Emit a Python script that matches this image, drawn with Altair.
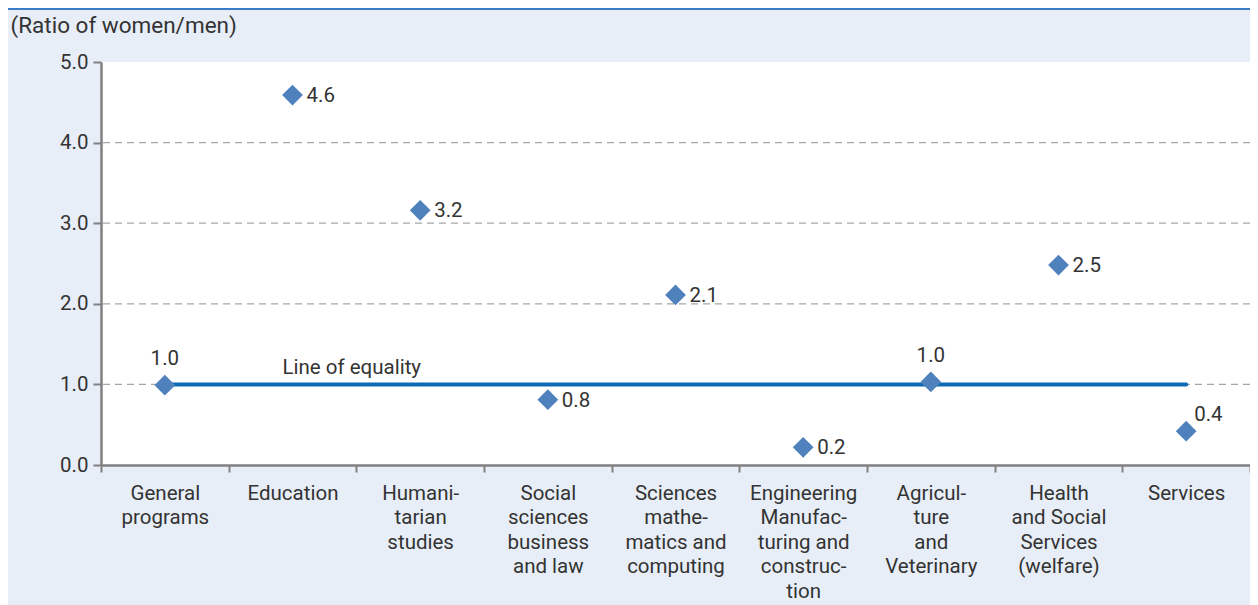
import altair as alt
import pandas as pd

categories = [
    "General|programs",
    "Education",
    "Humani-|tarian|studies",
    "Social|sciences|business|and law",
    "Sciences|mathe-|matics and|computing",
    "Engineering|Manufac-|turing and|construc-|tion",
    "Agricul-|ture|and|Veterinary",
    "Health|and Social|Services|(welfare)",
    "Services",
]
ratios = [0.99, 4.59, 3.16, 0.81, 2.11, 0.22, 1.03, 2.48, 0.42]
value_labels = ["1.0", "4.6", "3.2", "0.8", "2.1", "0.2", "1.0", "2.5", "0.4"]
grid_values = [1, 2, 3, 4]
equality_value = 1.0
y_title = "(Ratio of women/men)"
equality_label = "Line of equality"

df = pd.DataFrame({"cat": categories, "ratio": ratios, "lab": value_labels})
grid_df = pd.DataFrame({"g": grid_values})
eq_df = pd.DataFrame({"cat": [categories[0], categories[-1]], "ratio": [equality_value] * 2})
eq_lab_df = pd.DataFrame({"cat": [categories[1]], "ratio": [equality_value], "t": [equality_label]})

FONT = "Roboto"
TXT = "#333333"
FS = 20.5
W, H = 1149, 403

xenc = alt.X(
    "cat:N",
    sort=categories,
    scale=alt.Scale(domain=categories, paddingInner=0, paddingOuter=0),
    axis=alt.Axis(
        title=None,
        labelAngle=0,
        labelExpr="split(datum.label, '|')",
        labelLineHeight=24.6,
        labelFontSize=FS,
        labelColor=TXT,
        labelFont=FONT,
        labelPadding=11,
        labelBaseline="top",
        domainColor="#808080",
        domainWidth=2.5,
        tickColor="#808080",
        tickWidth=2,
        tickSize=7,
        tickBand="extent",
        grid=False,
    ),
)
yscale = alt.Scale(domain=[0, 5], nice=False, zero=True)

grid = alt.Chart(grid_df).mark_rule(color="#a6a6a6", strokeDash=[7, 5], strokeWidth=1.2).encode(
    y=alt.Y("g:Q", scale=yscale)
)

eq_line = alt.Chart(eq_df).mark_line(color="#0f6ab5", strokeWidth=4, strokeCap="round").encode(
    x=xenc,
    y=alt.Y("ratio:Q", scale=yscale),
)

eq_text = alt.Chart(eq_lab_df).mark_text(
    font=FONT, fontSize=FS, color=TXT, align="left", baseline="bottom", dx=-10, dy=-6
).encode(x=alt.X("cat:N", sort=categories), y=alt.Y("ratio:Q", scale=yscale), text="t:N")

points = alt.Chart(df).mark_point(
    shape="diamond", filled=True, size=430, color="#4f81bd", opacity=1
).encode(
    x=xenc,
    y=alt.Y(
        "ratio:Q",
        scale=yscale,
        axis=alt.Axis(
            values=[0, 1, 2, 3, 4, 5],
            format=".1f",
            grid=False,
            labelFontSize=FS,
            labelColor=TXT,
            labelFont=FONT,
            labelPadding=5,
            domainColor="#808080",
            domainWidth=2.5,
            tickColor="#808080",
            tickWidth=2,
            tickSize=8,
            title=y_title,
            titleFont=FONT,
            titleFontSize=22.5,
            titleFontWeight="normal",
            titleColor=TXT,
            titleAngle=0,
            titleAlign="left",
            titleBaseline="middle",
            titleX=-91,
            titleY=-37,
        ),
    ),
)

above_cats = [categories[0], categories[6]]
upright_cats = [categories[8]]

lab_right = alt.Chart(df).transform_filter(
    ~alt.FieldOneOfPredicate(field="cat", oneOf=above_cats + upright_cats)
).mark_text(font=FONT, fontSize=FS, color=TXT, align="left", baseline="middle", dx=14, dy=1).encode(
    x=alt.X("cat:N", sort=categories), y=alt.Y("ratio:Q", scale=yscale), text="lab:N"
)
lab_above = alt.Chart(df).transform_filter(
    alt.FieldOneOfPredicate(field="cat", oneOf=above_cats)
).mark_text(font=FONT, fontSize=FS, color=TXT, align="center", baseline="bottom", dy=-16).encode(
    x=alt.X("cat:N", sort=categories), y=alt.Y("ratio:Q", scale=yscale), text="lab:N"
)
lab_upright = alt.Chart(df).transform_filter(
    alt.FieldOneOfPredicate(field="cat", oneOf=upright_cats)
).mark_text(font=FONT, fontSize=FS, color=TXT, align="left", baseline="middle", dx=8, dy=-16).encode(
    x=alt.X("cat:N", sort=categories), y=alt.Y("ratio:Q", scale=yscale), text="lab:N"
)

top_border = alt.Chart(grid_df.head(1)).mark_rule(color="#3d7cc9", strokeWidth=2).encode(
    x=alt.value(-93), x2=alt.value(W), y=alt.value(-53)
)

chart = alt.layer(
    grid, eq_line, eq_text, points, lab_right, lab_above, lab_upright, top_border
).properties(
    width=W,
    height=H,
    autosize=alt.AutoSizeParams(type="none"),
    padding={"left": 93, "top": 54, "right": 0, "bottom": 140},
    background="#e8eef7",
).configure_view(
    fill="white", stroke=None
)

chart.save("out.html", embed_options={"renderer": "svg", "actions": False})
